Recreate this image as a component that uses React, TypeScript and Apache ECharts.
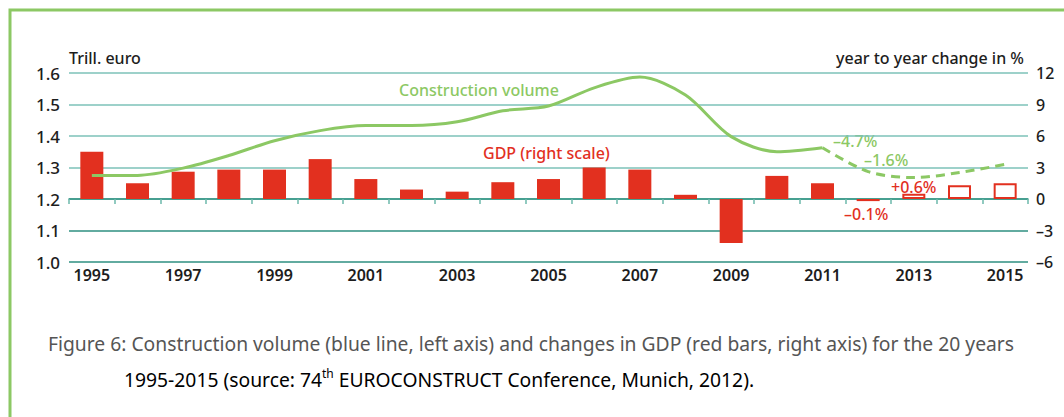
import React, { useEffect, useRef } from "react";
import * as echarts from "echarts";

const years = ["1995","1996","1997","1998","1999","2000","2001","2002","2003","2004","2005","2006","2007","2008","2009","2010","2011","2012","2013","2014","2015"];
const constructionVolume = [1.275,1.275,1.298,1.338,1.385,1.417,1.433,1.433,1.445,1.48,1.495,1.553,1.587,1.53,1.398,1.35,1.363,null,null,null,null];
const constructionForecast = [null,null,null,null,null,null,null,null,null,null,null,null,null,null,null,null,1.363,1.287,1.268,1.284,1.31];
const gdpChange = [4.5,1.5,2.6,2.8,2.8,3.8,1.9,0.9,0.7,1.6,1.9,3.0,2.8,0.4,-4.2,2.2,1.5,-0.2,0.5,1.3,1.5];
const forecastFrom = 18; // 2013 onwards drawn hollow
const leftTicks = { min: 1.0, max: 1.6, interval: 0.1 };
const rightTicks = { min: -6, max: 12, interval: 3 };

const GREEN = "#8cc864";
const RED = "#e2301f";
const FONT = "'Noto Sans', 'Open Sans', sans-serif";

export default function App() {
  const ref = useRef<HTMLDivElement>(null);
  useEffect(() => {
    document.body.style.margin = "0";
    const chart = echarts.init(ref.current!, null, { renderer: "svg" });
    const dash = (v: number) => String(v).replace("-", "\u2013");
    const gridColors = ["#2e8f80","#2e8f80","#2e8f80","#7dc2b8","#7dc2b8","#7dc2b8","#7dc2b8"];
    chart.setOption({
      animation: false,
      textStyle: { fontFamily: FONT },
      grid: { left: 69, right: 36, top: 73, bottom: 155, containLabel: false },
      xAxis: {
        type: "category",
        data: years,
        boundaryGap: true,
        axisLine: { lineStyle: { color: "#3f9c8c", width: 1.5 } },
        axisTick: { show: true, interval: 0, length: 5, lineStyle: { color: "#6cb8ab", width: 1.5 } },
        axisLabel: { interval: 1, color: "#1d1d1d", fontSize: 16, fontWeight: 600, margin: 5 },
      },
      yAxis: [
        {
          type: "value",
          min: leftTicks.min, max: leftTicks.max, interval: leftTicks.interval,
          axisLine: { show: false },
          axisTick: { show: true, length: 6, lineStyle: { color: gridColors } },
          axisLabel: { color: "#1d1d1d", fontSize: 17, fontWeight: 500, margin: 9, formatter: (v: number) => v.toFixed(1) },
          splitLine: { lineStyle: { width: 1.5, color: gridColors } },
        },
        {
          type: "value",
          min: rightTicks.min, max: rightTicks.max, interval: rightTicks.interval,
          axisLine: { show: false },
          axisTick: { show: false },
          splitLine: { show: false },
          axisLabel: { color: "#1d1d1d", fontSize: 16, fontWeight: 500, margin: 8, formatter: (v: number) => dash(v) },
        },
      ],
      series: [
        {
          type: "bar",
          yAxisIndex: 1,
          barWidth: 23,
          z: 2,
          data: gdpChange.map((v, i) =>
            i >= forecastFrom
              ? { value: v, itemStyle: { color: "#ffffff", borderColor: RED, borderWidth: 2 } }
              : { value: v, itemStyle: { color: RED } }
          ),
        },
        {
          type: "line",
          yAxisIndex: 0,
          data: constructionVolume,
          smooth: 0.3,
          showSymbol: false,
          z: 5,
          lineStyle: { color: GREEN, width: 3 },
        },
        {
          type: "line",
          yAxisIndex: 0,
          data: constructionForecast,
          smooth: 0.3,
          showSymbol: false,
          z: 5,
          lineStyle: { color: GREEN, width: 3, type: [9, 6] },
        },
      ],
      graphic: [
        { type: "polyline", shape: { points: [[10, 430], [10, 10], [1080, 10]] }, style: { stroke: GREEN, lineWidth: 3, fill: null } },
        { type: "text", x: 69, y: 58, style: { text: "Trill. euro", font: `500 16px ${FONT}`, fill: "#1d1d1d", textVerticalAlign: "middle" } },
        { type: "text", x: 1024, y: 58, style: { text: "year to year change in %", font: `500 16px ${FONT}`, fill: "#1d1d1d", textAlign: "right", textVerticalAlign: "middle" } },
        { type: "text", x: 399, y: 90, style: { text: "Construction volume", font: `500 16px ${FONT}`, fill: GREEN, textVerticalAlign: "middle" } },
        { type: "text", x: 483, y: 153, style: { text: "GDP (right scale)", font: `500 16px ${FONT}`, fill: RED, textVerticalAlign: "middle" } },
        { type: "text", x: 833, y: 141, style: { text: "\u20134.7%", font: `500 16px ${FONT}`, fill: GREEN, textVerticalAlign: "middle" } },
        { type: "text", x: 864, y: 160, style: { text: "\u20131.6%", font: `500 16px ${FONT}`, fill: GREEN, textVerticalAlign: "middle" } },
        { type: "text", x: 891, y: 187, style: { text: "+0.6%", font: `500 16px ${FONT}`, fill: RED, textVerticalAlign: "middle" } },
        { type: "text", x: 844, y: 214, style: { text: "\u20130.1%", font: `500 16px ${FONT}`, fill: RED, textVerticalAlign: "middle" } },
        { type: "text", x: 48, y: 343, style: { text: "Figure 6: Construction volume (blue line, left axis) and changes in GDP (red bars, right axis) for the 20 years", font: `19.3px ${FONT}`, fill: "#555555", textVerticalAlign: "middle" } },
        {
          type: "text", x: 124, y: 379,
          style: {
            text: "{a|1995-2015 (source: 74}{s|th}{a| EUROCONSTRUCT Conference, Munich, 2012).}",
            textVerticalAlign: "middle",
            rich: {
              a: { fontFamily: FONT, fontSize: 19.3, color: "#555555", lineHeight: 24 },
              s: { fontFamily: FONT, fontSize: 12, color: "#555555", verticalAlign: "top", lineHeight: 24, padding: [0, 0, 8, 0] },
            },
          },
        },
      ],
    });
    return () => chart.dispose();
  }, []);
  return <div ref={ref} style={{ width: 1064, height: 417 }} />;
}
